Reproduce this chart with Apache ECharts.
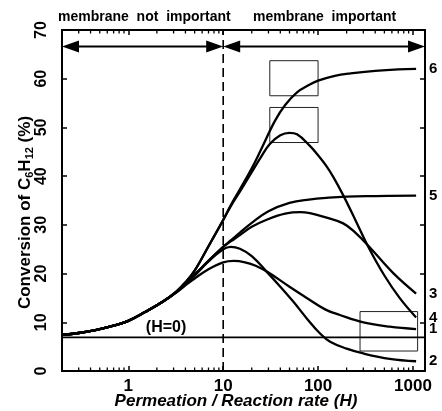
<!DOCTYPE html>
<html><head><meta charset="utf-8">
<script src="https://cdn.jsdelivr.net/npm/echarts@6/dist/echarts.min.js"></script>
<style>html,body{margin:0;padding:0;background:#fff}#c{width:442px;height:411px}</style>
</head><body><div id="c"></div>
<script>
// ---- data ----
const xTickValues = [1, 10, 100, 1000];
const xTickLabels = ['1', '10', '100', '1000'];

const h6 = [0.2,0.3,0.45,0.7,1,1.5,2.3,3.2,4,5,7,10,12,15,20,25,35,45,60,80,100,150,220,400,700,1080];
const y6 = [7.4,7.8,8.4,9.3,10.3,12.1,14.2,16.3,18.2,20.6,25.6,31.0,34.0,37.3,41.6,45.4,51.3,54.6,57.2,58.7,59.6,60.6,61.1,61.6,61.9,62.0];

const h4 = [0.2,0.3,0.45,0.7,1,1.5,2.3,3.2,4,5,7,10,12,15,20,25,31,40,50,60,82,100,120,145,185,250,340,500,730,1080];
const y4 = [7.4,7.8,8.4,9.3,10.3,12.1,14.2,16.3,18.2,20.6,25.6,31.0,33.8,36.8,40.8,43.9,46.6,48.4,48.9,48.6,46.2,44.3,42.3,39.8,36.0,30.8,25.4,19.6,14.9,11.0];

const h5 = [0.2,0.3,0.45,0.7,1,1.5,2.3,3.2,4,5,7,10,12,15,20,30,50,80,130,200,400,1080];
const y5 = [7.4,7.8,8.4,9.3,10.3,12.1,14.2,16.2,18.0,19.8,22.6,25.5,26.8,28.4,30.4,32.8,34.5,35.2,35.6,35.8,35.9,36.0];

const h3 = [0.2,0.3,0.45,0.7,1,1.5,2.3,3.2,4,5,7,10,12,15,20,30,45,65,82,113,184,250,350,620,1080];
const y3 = [7.4,7.8,8.4,9.3,10.3,12.1,14.2,16.2,18.0,19.8,22.6,25.5,26.6,27.9,29.6,31.2,32.3,32.6,32.4,31.7,30.3,28.3,25.4,20.1,15.9];

const h2 = [0.2,0.3,0.45,0.7,1,1.5,2.3,3.2,4,5,7,10,12,15,20,29,40,55,76,105,134,200,300,570,1080];
const y2 = [7.4,7.8,8.4,9.3,10.3,12.1,14.2,16.2,17.9,19.6,22.5,25.0,25.5,25.1,23.6,20.3,17.3,14.2,10.8,7.7,6.0,4.6,3.6,2.5,2.0];

const h1 = [0.2,0.3,0.45,0.7,1,1.5,2.3,3.2,4,5,7,10,13,17,22,30,50,76,120,170,300,570,1080];
const y1 = [7.4,7.8,8.4,9.3,10.3,12.1,14.2,16.1,17.6,19.0,20.9,22.3,22.6,22.3,21.6,20.2,17.3,15.0,12.6,11.5,10.0,9.1,8.6];

const curveNames = ['6', '4', '5', '3', '2', '1'];
const curveH = [h6, h4, h5, h3, h2, h1];
const curveY = [y6, y4, y5, y3, y2, y1];

const h0Level = 6.9;           // (H=0) reference line
const dividerH = 10;           // vertical dashed divider
const arrowLevel = 66.6;
const arrowSpans = [[0.2, 10], [10, 1340]];
const boxes = [[31, 100, 56.5, 63.7], [31, 100, 46.9, 54.1], [277, 1120, 4.1, 12.2]];
const xMin = 0.2, xMax = 1340, yMin = 0, yMax = 70, yStep = 10;

// ---- chart ----
const FONT = '"Liberation Sans", Arial, Helvetica, sans-serif';
const BLACK = '#000';
const chart = echarts.init(document.getElementById('c'), null, {renderer: 'canvas'});

const minorVals = [];
[-1, 0, 1, 2, 3].forEach(k => {
  for (let m = 2; m <= 9; m++) {
    const v = m * Math.pow(10, k);
    if (v > xMin * 1.001 && v < xMax) minorVals.push(v);
  }
});

const zip = (hs, ys) => hs.map((h, i) => [h, ys[i]]);

const series = curveNames.map((nm, i) => ({
  type: 'line', name: nm, data: zip(curveH[i], curveY[i]),
  smooth: 0.4, symbol: 'none', silent: true,
  lineStyle: {color: BLACK, width: 2.3},
  endLabel: {show: true, formatter: nm, distance: 13, color: BLACK,
    fontSize: 15, fontWeight: 'bold', fontFamily: FONT},
  z: 5
}));

series.push({
  type: 'line', name: 'H0', data: [[xMin, h0Level], [xMax, h0Level]],
  symbol: 'none', silent: true, lineStyle: {color: BLACK, width: 1.6},
  markPoint: {
    symbol: 'circle', symbolSize: 0, silent: true,
    data: [{coord: [2.5, h0Level], value: 0}],
    label: {show: true, formatter: '(H=0)', position: 'top', distance: 2,
      color: BLACK, fontSize: 16, fontWeight: 'bold', fontFamily: FONT}
  },
  markArea: {
    silent: true,
    itemStyle: {color: 'rgba(0,0,0,0)', borderColor: '#222', borderWidth: 1},
    data: boxes.map(b => [{coord: [b[0], b[2]]}, {coord: [b[1], b[3]]}])
  }
});

series.push({
  type: 'line', name: 'divider', data: [[dividerH, yMin], [dividerH, yMax]],
  symbol: 'none', silent: true,
  lineStyle: {color: BLACK, width: 1.6, type: [9, 5]}
});

series.push({
  type: 'custom', name: 'arrows', silent: true, clip: false,
  data: arrowSpans.map(s => [s[0], s[1], arrowLevel]),
  encode: {x: [0, 1], y: 2},
  renderItem: function (params, api) {
    const p1 = api.coord([api.value(0), api.value(2)]);
    const p2 = api.coord([api.value(1), api.value(2)]);
    const L = 17, W = 6;
    return {type: 'group', children: [
      {type: 'line', shape: {x1: p1[0] + L - 2, y1: p1[1], x2: p2[0] - L + 2, y2: p2[1]},
        style: {stroke: BLACK, lineWidth: 2}},
      {type: 'polygon', shape: {points: [[p1[0], p1[1]], [p1[0] + L, p1[1] - W], [p1[0] + L, p1[1] + W]]},
        style: {fill: BLACK}},
      {type: 'polygon', shape: {points: [[p2[0], p2[1]], [p2[0] - L, p2[1] - W], [p2[0] - L, p2[1] + W]]},
        style: {fill: BLACK}}
    ]};
  }
});

series.push({
  type: 'custom', name: 'minorTicks', silent: true, clip: false,
  data: minorVals.map(v => [v, yMin]),
  encode: {x: 0, y: 1},
  renderItem: function (params, api) {
    const b = api.coord([api.value(0), yMin]);
    const t = api.coord([api.value(0), yMax]);
    return {type: 'group', children: [
      {type: 'line', shape: {x1: b[0], y1: b[1], x2: b[0], y2: b[1] - 3.5}, style: {stroke: BLACK, lineWidth: 1.3}},
      {type: 'line', shape: {x1: t[0], y1: t[1], x2: t[0], y2: t[1] + 3.5}, style: {stroke: BLACK, lineWidth: 1.3}}
    ]};
  }
});

const axisLine = {show: true, onZero: false, lineStyle: {color: BLACK, width: 2}};
const tick = {show: true, inside: true, length: 5, lineStyle: {color: BLACK, width: 1.5}};

const option = {
  backgroundColor: '#fff',
  animation: false,
  grid: {left: 62, right: 17, top: 30, bottom: 40, containLabel: false, outerBoundsMode: 'none'},
  xAxis: [
    {
      type: 'log', logBase: 10, min: xMin, max: xMax, position: 'bottom',
      axisLine: axisLine, axisTick: tick, splitLine: {show: false}, minorTick: {show: false},
      axisLabel: {
        color: BLACK, fontSize: 17, fontWeight: 'bold', fontFamily: FONT, margin: 7,
        showMinLabel: false, showMaxLabel: false,
        formatter: v => {
          const i = xTickValues.findIndex(t => Math.abs(t - v) / t < 1e-6);
          return i >= 0 ? xTickLabels[i] : '';
        }
      },
      name: 'Permeation / Reaction rate (H)', nameLocation: 'middle', nameGap: 22,
      nameMoveOverlap: false,
      nameTextStyle: {color: BLACK, fontSize: 17, fontWeight: 'bold', fontStyle: 'italic',
        fontFamily: FONT, padding: [0, 15, 0, 0]}
    },
    {
      type: 'log', logBase: 10, min: xMin, max: xMax, position: 'top',
      axisLine: axisLine, axisTick: tick, splitLine: {show: false}, axisLabel: {show: false}
    }
  ],
  yAxis: [
    {
      type: 'value', min: yMin, max: yMax, interval: yStep, position: 'left',
      axisLine: axisLine, axisTick: tick, splitLine: {show: false},
      axisLabel: {color: BLACK, fontSize: 16, fontWeight: 'bold', fontFamily: FONT, rotate: 90, margin: 12},
      name: 'Conversion of C{s|6}H{s|12} (%)', nameLocation: 'middle', nameGap: 27,
      nameMoveOverlap: false,
      nameTextStyle: {color: BLACK, fontSize: 17, fontWeight: 'bold', fontFamily: FONT,
        padding: [0, 24, 0, 0],
        rich: {s: {fontSize: 11, fontWeight: 'bold', fontFamily: FONT, color: BLACK, padding: [9, 0, 0, 0]}}}
    },
    {
      type: 'value', min: yMin, max: yMax, interval: yStep, position: 'right',
      axisLine: axisLine, axisTick: tick, splitLine: {show: false}, axisLabel: {show: false}
    }
  ],
  graphic: [
    {type: 'text', left: 58, top: 10, style: {text: 'membrane  not  important', fill: BLACK,
      font: 'bold 14px ' + FONT}},
    {type: 'text', left: 253, top: 10, style: {text: 'membrane  important', fill: BLACK,
      font: 'bold 14px ' + FONT}}
  ],
  series: series
};
chart.setOption(option);
</script>
</body></html>
